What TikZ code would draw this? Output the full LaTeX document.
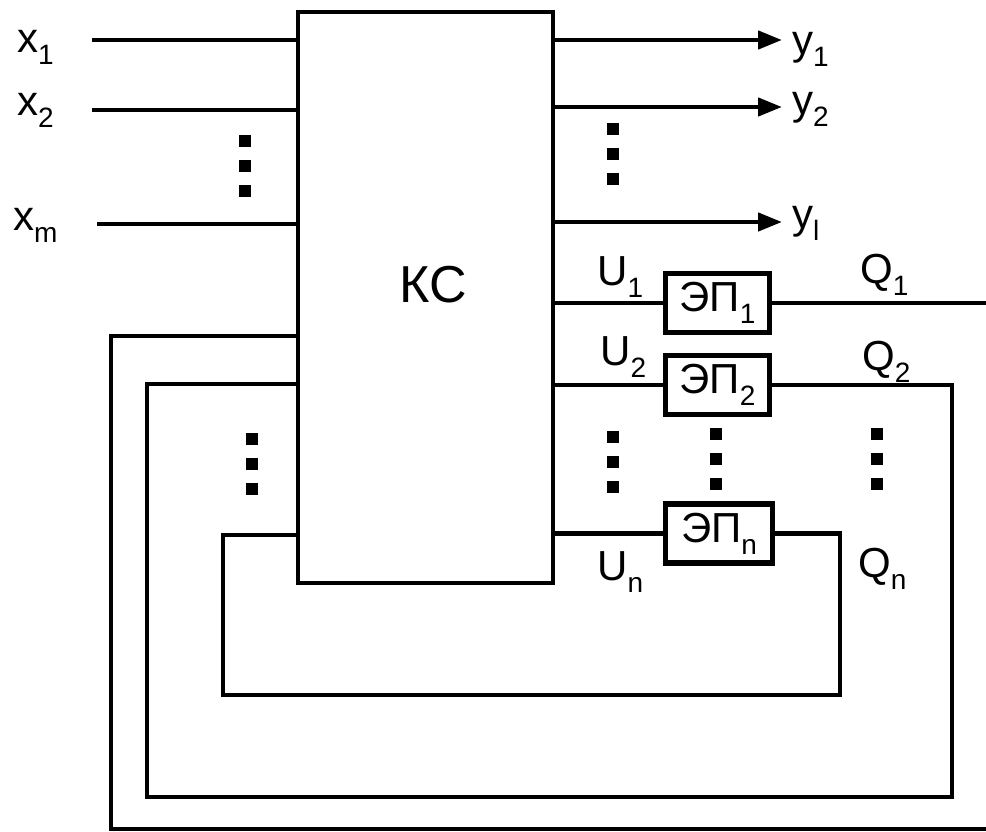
\documentclass[tikz,border=0pt]{standalone}
\usepackage{fontspec}
\setmainfont{Liberation Sans}
\usetikzlibrary{positioning, arrows.meta, calc}
\newcommand{\idx}[1]{\raisebox{-12pt}{\fontsize{28}{28}\selectfont #1}}

\begin{document}
\begin{tikzpicture}[x=1pt, y=-1pt,
    wire/.style={line width=4.5pt},
    outarrow/.style={wire, -{Triangle[length=24pt, width=18pt]}},
    block/.style={draw, line width=4pt, inner sep=0pt, minimum width=255pt, minimum height=570pt},
    epbox/.style={draw, line width=5.5pt, inner sep=0pt, minimum width=104pt, minimum height=59pt,
                  font=\fontsize{42}{42}\selectfont},
    lbl/.style={inner sep=0pt, anchor=base west, font=\fontsize{42}{42}\selectfont}]
  \useasboundingbox (0,0) rectangle (986,832);

  \node[block] (ks) at (425.5,297.5) {};
  \node[font=\fontsize{52}{52}\selectfont] (kslbl) at (433,285) {КС};

  \node[epbox] (ep1) at (717.5,303) {ЭП\idx{1}};
  \node[epbox] (ep2) at (717.5,385) {ЭП\idx{2}};
  \node[epbox, minimum width=107pt] (epn) at (719,533.5) {ЭП\idx{n}};

  \coordinate (x1beg) at (92,40);
  \coordinate (x2beg) at (92,110);
  \coordinate (xmbeg) at (97,224);
  \draw[wire] (x1beg) -- (x1beg -| ks.west);
  \draw[wire] (x2beg) -- (x2beg -| ks.west);
  \draw[wire] (xmbeg) -- (xmbeg -| ks.west);

  \coordinate (y1end) at (782,40);
  \coordinate (y2end) at (782,107);
  \coordinate (ylend) at (782,222);
  \draw[outarrow] (ks.east |- y1end) -- (y1end);
  \draw[outarrow] (ks.east |- y2end) -- (y2end);
  \draw[outarrow] (ks.east |- ylend) -- (ylend);

  \draw[wire] (ks.east |- ep1.west) -- (ep1.west);
  \draw[wire] (ks.east |- ep2.west) -- (ep2.west);
  \draw[wire] (ks.east |- epn.west) -- (epn.west);

  \draw[wire] (ep1.east) -- (990,303) |- (111,829) |- (ks.west |- 0,336);
  \draw[wire] (ep2.east) -- (952,385) |- (147,797) |- (ks.west |- 0,384);
  \draw[wire] (epn.east) -- (840,533.5) |- (223,695) |- (ks.west |- 0,535);

  \foreach \cx/\cy in {245/141, 613/129, 252/439, 613/437, 716/434, 877/434}
    \foreach \k in {0,1,2}
      \fill ({\cx-6},{\cy-6+25*\k}) rectangle ++(12,12);

  \node[lbl] (lx1) at (17,53) {x\idx{1}};
  \node[lbl] (lx2) at (17,116) {x\idx{2}};
  \node[lbl] (lxm) at (13,230) {x\idx{m}};

  \node[lbl] (ly1) at (792,55) {y\idx{1}};
  \node[lbl] (ly2) at (792,115) {y\idx{2}};
  \node[lbl] (lyl) at (792,229) {y\idx{l}};

  \node[lbl] (lu1) at (597,285) {U\idx{1}};
  \node[lbl] (lu2) at (600,365) {U\idx{2}};
  \node[lbl] (lun) at (597,580) {U\idx{n}};

  \node[lbl] (lq1) at (860,283) {Q\idx{1}};
  \node[lbl] (lq2) at (862,370) {Q\idx{2}};
  \node[lbl] (lqn) at (858,577) {Q\idx{n}};
\end{tikzpicture}
\end{document}
